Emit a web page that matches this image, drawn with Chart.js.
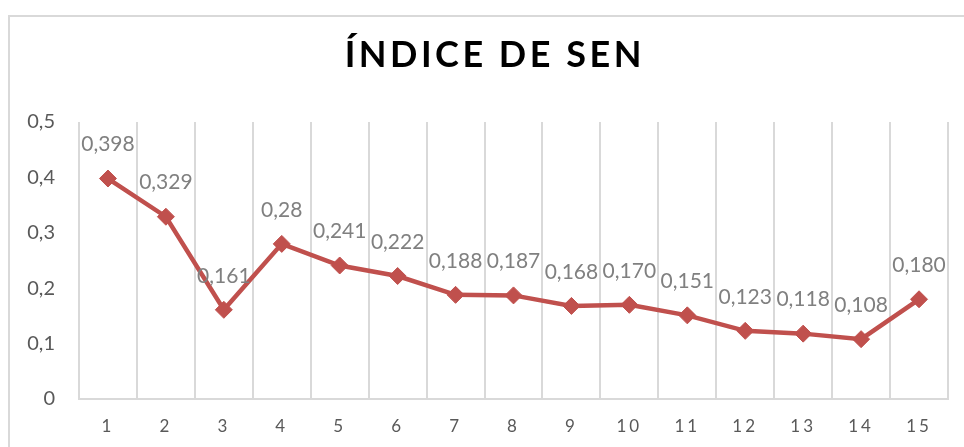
<!DOCTYPE html>
<html>
<head>
<meta charset="utf-8">
<script src="https://cdn.jsdelivr.net/npm/chart.js@4/dist/chart.umd.min.js"></script>
<style>
    html, body { margin: 0; padding: 0; background: #fff; overflow: hidden; }
    #frame { position: absolute; left: 8px; top: 15px; width: 1000px; height: 500px;
             border-left: 2px solid #d9d9d9; border-top: 2px solid #d9d9d9; }
    #wrap { position: absolute; left: 0; top: 0; width: 964px; height: 447px; }
</style>
</head>
<body>
<div id="frame"></div>
<div id="wrap"><canvas id="line-chart" width="964" height="447"></canvas></div>
<script>
var chartTitle = "ÍNDICE DE SEN";
var categories = ["1","2","3","4","5","6","7","8","9","10","11","12","13","14","15"];
var values = [0.398, 0.329, 0.161, 0.28, 0.241, 0.222, 0.188, 0.187, 0.168, 0.170, 0.151, 0.123, 0.118, 0.108, 0.180];
var valueLabels = ["0,398","0,329","0,161","0,28","0,241","0,222","0,188","0,187","0,168","0,170","0,151","0,123","0,118","0,108","0,180"];
var yTicks = [0, 0.1, 0.2, 0.3, 0.4, 0.5];

var FONT = "Lato, 'Open Sans', sans-serif";

// data labels above each point
var valueLabelPlugin = {
    id: "valueLabels",
    afterDatasetsDraw: function(chart) {
        var ctx = chart.ctx;
        var meta = chart.getDatasetMeta(0);
        ctx.save();
        ctx.font = "21px " + FONT;
        ctx.fillStyle = "#808080";
        ctx.textAlign = "center";
        ctx.textBaseline = "middle";
        for (var i = 0; i < meta.data.length; i++) {
            var pt = meta.data[i];
            ctx.fillText(valueLabels[i], pt.x, pt.y - 34);
        }
        ctx.restore();
        // spacing for the x labels drawn after this (ticks.z = 1)
        ctx.letterSpacing = "3px";
    },
    afterDraw: function(chart) {
        var ctx = chart.ctx;
        ctx.letterSpacing = "0px";
        ctx.save();
        ctx.font = "bold 36px " + FONT;
        ctx.letterSpacing = "3.5px";
        ctx.fillStyle = "#000";
        ctx.textAlign = "left";
        ctx.textBaseline = "alphabetic";
        var w = ctx.measureText(chartTitle).width - 3.5;
        ctx.fillText(chartTitle, 493 - w / 2, 67);
        ctx.restore();
    }
};

var chartCanvas = document.getElementById("line-chart");
var lineChart = new Chart(chartCanvas, {
    type: "line",
    data: {
        labels: categories,
        datasets: [{
            label: chartTitle,
            data: values,
            borderColor: "#c0504d",
            backgroundColor: "#c0504d",
            borderWidth: 4.5,
            pointStyle: "rectRot",
            pointRadius: 8.5,
            pointBorderWidth: 1,
            pointBackgroundColor: "#c0504d",
            pointBorderColor: "#c0504d",
            tension: 0
        }]
    },
    options: {
        responsive: false,
        animation: false,
        layout: { padding: { top: 122, right: 16, bottom: 0, left: 0 } },
        plugins: {
            legend: { display: false },
            title: { display: false },
            tooltip: { enabled: false }
        },
        scales: {
            x: {
                offset: true,
                grid: { offset: true, color: "#d9d9d9", lineWidth: 2, drawTicks: false },
                border: { color: "#d9d9d9", width: 2 },
                ticks: { z: 1, padding: 17, color: "#595959", font: { family: FONT, size: 17 }, maxRotation: 0 },
                afterFit: function(scale) { scale.height = 48; }
            },
            y: {
                min: 0,
                max: 0.5,
                afterBuildTicks: function(scale) {
                    scale.ticks = yTicks.map(function(v) { return { value: v }; });
                },
                grid: { display: false, drawTicks: false },
                border: { display: false },
                ticks: {
                    padding: 24,
                    color: "#595959",
                    font: { family: FONT, size: 20 },
                    callback: function(v) { return String(v).replace(".", ","); }
                },
                afterFit: function(scale) { scale.width = 79; }
            }
        }
    },
    plugins: [valueLabelPlugin]
});
</script>
</body>
</html>
